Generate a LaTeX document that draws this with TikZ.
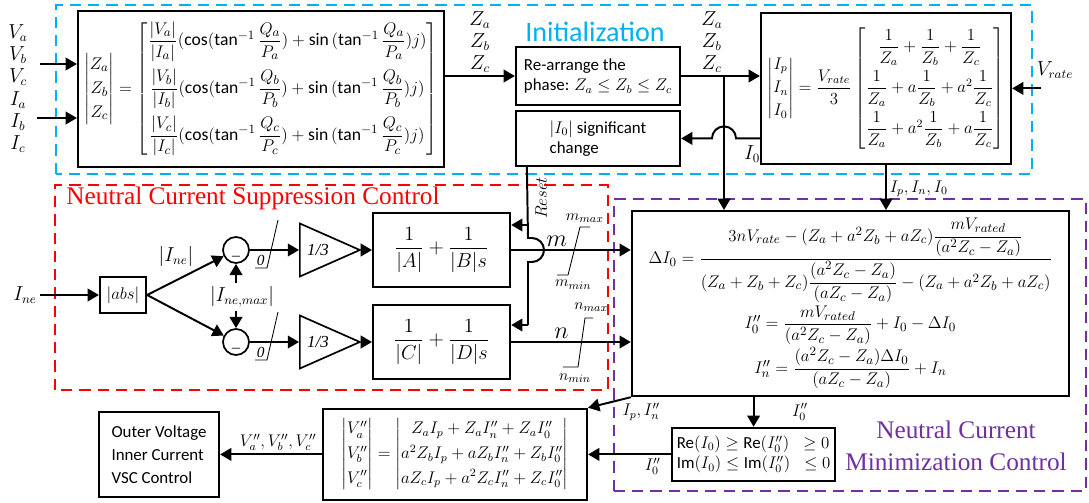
\documentclass[tikz,border=0pt,12pt]{standalone}
\usepackage{amsmath}
\usepackage{fontspec}
\setmainfont{Carlito}
\newfontfamily\ttlserif{Liberation Serif}
\usetikzlibrary{arrows.meta,shapes.geometric,calc}
\definecolor{initblue}{RGB}{0,176,240}
\definecolor{nmcpurple}{RGB}{112,48,160}

\begin{document}
\begin{tikzpicture}[>={Triangle[length=8pt,width=9pt]}, line width=1.4pt,
        block/.style={draw, line width=1.6pt, align=center, inner sep=2pt},
        region/.style={draw, line width=1.2pt, dash pattern=on 8pt off 5pt},
        sumnode/.style={draw, circle, line width=1.2pt, minimum size=0.65cm, inner sep=0pt},
        gain/.style={draw, isosceles triangle, isosceles triangle stretches, shape border rotate=0,
            minimum width=1.325cm, minimum height=1.5cm, line width=1.2pt, inner sep=0pt, font=\ttlserif\itshape},
        satur/.style={line width=0.6pt},
        sig/.style={inner sep=2pt},
        biglbl/.style={font=\fontsize{13.5}{15.6}\selectfont, inner sep=2pt}]
    \useasboundingbox (0,0) rectangle (27.225,12.55);

    % dashed regions and titles
    \draw[region, initblue] (1.4,8.2) rectangle (25.8,12.425);
    \draw[region, red] (1.375,2.8) rectangle (15.2,7.925);
    \draw[region, nmcpurple] (15.35,0.275) rectangle (27.15,7.575);
    \node[text=initblue, font=\fontsize{20}{24}\selectfont] (ttlinit) at (14.875,11.75) {Initialization};
    \node[text=red, font=\ttlserif\fontsize{18}{22}\selectfont] (ttlncsc) at (6.325,7.6) {Neutral Current Suppression Control};
    \node[text=nmcpurple, align=center, font=\ttlserif\fontsize{18}{23}\selectfont] (ttlnmc) at (23.9,1.4) {Neutral Current\\Minimization Control};

    % initialization
    \node[block, minimum width=9.15cm, minimum height=3.9cm, font=\fontsize{12.5}{15}\selectfont] (zcalc) at (6.525,10.325) {$\left|\begin{matrix}Z_a\\[2pt]Z_b\\[2pt]Z_c\end{matrix}\right| = \begin{bmatrix}
        \dfrac{|V_a|}{|I_a|}(\cos(\tan^{-1}\dfrac{Q_a}{P_a}) +\sin\,(\tan^{-1}\dfrac{Q_a}{P_a})j)\\[12pt]
        \dfrac{|V_b|}{|I_b|}(\cos(\tan^{-1}\dfrac{Q_b}{P_b}) +\sin\,(\tan^{-1}\dfrac{Q_b}{P_b})j)\\[12pt]
        \dfrac{|V_c|}{|I_c|}(\cos(\tan^{-1}\dfrac{Q_c}{P_c}) +\sin\,(\tan^{-1}\dfrac{Q_c}{P_c})j)\end{bmatrix}$};
    \node[block, minimum width=4.1cm, minimum height=1.45cm, align=left] (rearr) at (14.95,10.65) {Re-arrange the\\phase: $Z_a\leq Z_b\leq Z_c$};
    \node[block, minimum width=4.1cm, minimum height=1.375cm, align=left] (chg) at (14.95,9.09) {$|I_0|$ significant\\change};
    \node[block, minimum width=6.25cm, minimum height=3.775cm] (seq) at (22.15,10.34) {$\left|\begin{matrix}I_p\\[2pt]I_n\\[2pt]I_0\end{matrix}\right| = \dfrac{V_{rate}}{3}\begin{bmatrix}
        \dfrac{1}{Z_a}+\dfrac{1}{Z_b}+\dfrac{1}{Z_c}\\[9pt]
        \dfrac{1}{Z_a}+a\dfrac{1}{Z_b}+a^2\dfrac{1}{Z_c}\\[9pt]
        \dfrac{1}{Z_a}+a^2\dfrac{1}{Z_b}+a\dfrac{1}{Z_c}\end{bmatrix}$};
    \node[block, minimum width=10.925cm, minimum height=4.625cm, font=\fontsize{12.8}{15}\selectfont] (nmc) at (21.26,4.96) {$\Delta I_0 = \dfrac{3nV_{rate} - (Z_a + a^2Z_b + aZ_c)\dfrac{mV_{rated}}{(a^2Z_c - Z_a)}}{(Z_a + Z_b + Z_c)\dfrac{(a^2Z_c - Z_a)}{(aZ_c - Z_a)} - (Z_a + a^2Z_b + aZ_c)}$\\[1pt]
        $I_0'' = \dfrac{mV_{rated}}{(a^2Z_c - Z_a)} + I_0 - \Delta I_0$\\[1pt]
        $I_n'' = \dfrac{(a^2Z_c - Z_a)\Delta I_0}{(aZ_c - Z_a)} + I_n$};
    \node[biglbl, align=center] (vin) at (0.45,11.175) {$V_a$\\$V_b$\\$V_c$};
    \node[biglbl, align=center] (iin) at (0.45,9.5) {$I_a$\\$I_b$\\$I_c$};
    \node[biglbl] (vr) at (26.375,10.8) {$V_{rate}$};
    \coordinate (vtail) at (1.0,10.95);
    \coordinate (itail) at (0.925,9.6);
    \coordinate (vrtail) at (26.025,10.34);
    \coordinate (zsplit) at (18.1,10.65);
    \draw[->] (vtail) -- (vtail -| zcalc.west);
    \draw[->] (itail) -- (itail -| zcalc.west);
    \draw[->] (vrtail) -- (seq.east);
    \draw[->] (zcalc.east |- rearr.west) -- node[biglbl, above, align=center] (zlbla) {$Z_a$\\$Z_b$\\$Z_c$} (rearr.west);
    \draw[->] (rearr.east) -- node[biglbl, above, align=center, pos=0.39] (zlblb) {$Z_a$\\$Z_b$\\$Z_c$} (rearr.east -| seq.west);
    \draw[->] (zsplit) -- (zsplit |- nmc.north);
    \draw[->] (seq.west |- chg.east) -- (18.4,9.09) arc[start angle=0, end angle=180, radius=0.3] -- (chg.east);
    \node[biglbl] (izero) at (18.8,8.7) {$I_0$};
    \draw[->] (seq.south) -- node[sig, right, pos=0.53] (iplbl) {$I_p, I_n, I_0$} (seq.south |- nmc.north);

    % neutral current suppression
    \node[biglbl] (ine) at (0.625,5.175) {$I_{ne}$};
    \node[block, minimum width=1.15cm, minimum height=0.9cm] (absb) at (3.075,5.175) {$|abs|$};
    \node[sumnode] (sum1) at (5.9,6.3) {};
    \node[sumnode] (sum2) at (5.9,4.0) {};
    \node[font=\scriptsize, inner sep=0pt] (sum1m) at ($(sum1)+(0,-0.17)$) {$\boldsymbol{-}$};
    \node[font=\scriptsize, inner sep=0pt] (sum2m) at ($(sum2)+(0,-0.17)$) {$\boldsymbol{-}$};
    \node[biglbl] (inelbl) at (4.4,6.15) {$|I_{ne}|$};
    \node[biglbl] (inemax) at (6.05,5.125) {$|I_{ne,max}|$};
    \node[gain, anchor=west] (g1) at (7.475,6.3) {1/3};
    \node[gain, anchor=west] (g2) at (7.475,4.0) {1/3};
    \node[block, minimum width=3.425cm, minimum height=1.85cm, font=\large] (pim) at (11.04,6.3) {$\dfrac{1}{|A|}+\dfrac{1}{|B|s}$};
    \node[block, minimum width=3.425cm, minimum height=1.85cm, font=\large] (pin) at (11.04,4.0) {$\dfrac{1}{|C|}+\dfrac{1}{|D|s}$};
    \draw[->] (ine.east) -- (absb.west);
    \draw[->] (absb.east) -- (sum1);
    \draw[->] (absb.east) -- (sum2);
    \draw[->] (inemax.north -| sum1) -- (sum1.south);
    \draw[->] (inemax.south -| sum2) -- (sum2.north);
    \draw[->] (sum1.east) -- (g1.west);
    \draw[->] (sum2.east) -- (g2.west);
    \draw[->] (g1.apex) -- (pim.west);
    \draw[->] (g2.apex) -- (pin.west);
    % lower limit 0
    \draw[satur] (6.375,5.85) -- (6.675,5.85) -- (6.95,7.05);
    \draw[satur] (6.375,3.55) -- (6.675,3.55) -- (6.95,4.75);
    \node[anchor=south, inner sep=1pt, font=\ttlserif\itshape\small] (zlo1) at (6.52,5.85) {0};
    \node[anchor=south, inner sep=1pt, font=\ttlserif\itshape\small] (zlo2) at (6.52,3.55) {0};
    % m and n to minimization
    \draw[->] (pim.east) -- node[sig, above, pos=0.38, font=\Large] (mlbl) {$m$} (pim.east -| nmc.west);
    \draw[->] (pin.east) -- node[sig, above, pos=0.42, font=\Large] (nlbl) {$n$} (pin.east -| nmc.west);
    \draw[satur] (14.75,6.875) -- (14.5,6.875) -- (14.2,5.675) -- (13.925,5.675);
    \draw[satur] (14.825,4.6) -- (14.625,4.6) -- (14.45,3.375) -- (14.075,3.375);
    \node[font=\small] (mmax) at (14.62,7.1) {$m_{max}$};
    \node[font=\small] (mmin) at (14.33,5.43) {$m_{min}$};
    \node[font=\small] (nmax) at (14.78,4.875) {$n_{max}$};
    \node[font=\small] (nmin) at (14.375,3.1) {$n_{min}$};
    % reset
    \coordinate (rst) at ($(chg.south west)+(0.3,0)$);
    \coordinate (rsta) at (13.2,6.925);
    \coordinate (rstb) at (13.2,4.425);
    \draw (rst) -- (13.2,6.6) -- (13.3,6.6) arc[start angle=90, end angle=-90, radius=0.3] -- (13.2,6.0) -- (rstb);
    \draw[->] (rsta) -- (rsta -| pim.east);
    \draw[->] (rstb) -- (rstb -| pin.east);
    \node[rotate=90] (rstlbl) at (13.525,7.6) {$Reset$};

    % neutral current minimization
    \node[block, minimum width=4.075cm, minimum height=1.325cm, align=left] (lim) at (18.84,1.19) {Re$(I_0)\geq{}$Re$(I_0'')\;\;\geq 0$\\Im$(I_0)\leq{}$Im$(I_0'')\;\;\leq 0$};
    \node[block, minimum width=6.6cm, minimum height=2.275cm] (vcalc) at (11.375,1.19) {$\left|\begin{matrix}V_a''\\[3pt]V_b''\\[3pt]V_c''\end{matrix}\right| = \begin{vmatrix}Z_aI_p+Z_aI_n''+Z_aI_0''\\[3pt] a^2Z_bI_p+aZ_bI_n''+Z_bI_0''\\[3pt] aZ_cI_p+a^2Z_cI_n''+Z_cI_0''\end{vmatrix}$};
    \node[block, minimum width=3.0cm, minimum height=2.125cm, align=left] (vsc) at (3.975,1.19) {Outer Voltage\\[2pt]Inner Current\\[2pt]VSC Control};
    \draw[->] (nmc.south west) -- (vcalc.north east);
    \node (iplbl2) at (16.03,2.25) {$I_p, I_n''$};
    \draw[->] (lim.north |- nmc.south) -- (lim.north);
    \node (i0lbla) at (20.0,2.25) {$I_0''$};
    \draw[->] (lim.west) -- node[sig, below, pos=0.22] (i0lblb) {$I_0''$} (vcalc.east);
    \draw[->] (vcalc.west) -- node[sig, above, pos=0.43] (vlbl) {$V_a'', V_b'', V_c''$} (vsc.east);
\end{tikzpicture}
\end{document}
